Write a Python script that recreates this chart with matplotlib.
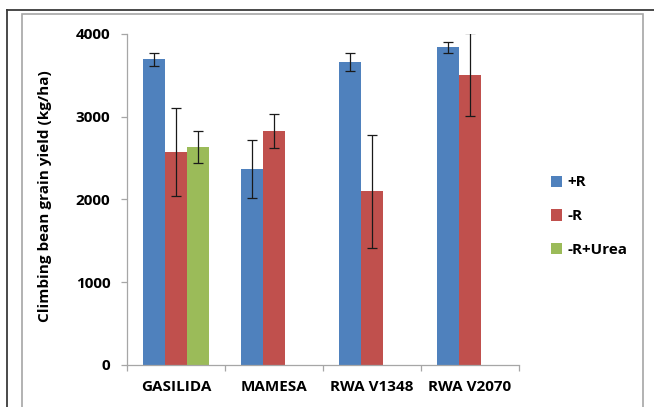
import matplotlib
matplotlib.use("Agg")
import matplotlib.pyplot as plt
import numpy as np
from matplotlib.lines import Line2D
from matplotlib.patches import Rectangle

plt.rcParams['font.family'] = ['Open Sans', 'DejaVu Sans']
plt.rcParams['font.weight'] = 'bold'

categories = ["GASILIDA", "MAMESA", "RWA V1348", "RWA V2070"]
series = ["+R", "-R", "-R+Urea"]
plus_r = [3690, 2365, 3660, 3835]
plus_r_err = [80, 350, 112, 67]
minus_r = [2570, 2825, 2095, 3505]
minus_r_err = [530, 200, 685, 500]
minus_r_urea = [2630, np.nan, np.nan, np.nan]
minus_r_urea_err = [195, np.nan, np.nan, np.nan]
yticks = [0, 1000, 2000, 3000, 4000]
ylabel = "Climbing bean grain yield (kg/ha)"

colors = ["#4F81BD", "#C0504D", "#9BBB59"]
FS = 11

W, H = 654, 407
fig = plt.figure(figsize=(W / 100, H / 100), dpi=100)
ax = fig.add_axes([127 / W, 1 - 365 / H, (519 - 127) / W, (365 - 33.7) / H])

x = np.arange(len(categories))
bw = 0.2245
vals = [plus_r, minus_r, minus_r_urea]
errs = [plus_r_err, minus_r_err, minus_r_urea_err]
for i, (v, e, c, lab) in enumerate(zip(vals, errs, colors, series)):
    ax.bar(x + (i - 1) * bw, v, width=bw, color=c, label=lab, zorder=2)
    ax.errorbar(x + (i - 1) * bw, v, yerr=e, fmt='none', ecolor='#1a1a1a',
                elinewidth=0.9, capsize=3.5, capthick=0.9, zorder=3)

ax.set_xlim(-0.5, len(categories) - 0.5)
ax.set_ylim(0, 4000)
ax.set_yticks(yticks)
ax.set_yticklabels([str(t) for t in yticks], fontsize=FS, fontweight='bold')
ax.set_xticks(x)
ax.set_xticklabels(categories, fontsize=FS, fontweight='bold')
ax.set_xticks(np.arange(len(categories) + 1) - 0.5, minor=True)
ax.tick_params(axis='x', which='major', length=0, pad=11)
ax.tick_params(axis='x', which='minor', length=4, color='#A6A6A6', width=0.9, direction='out')
ax.tick_params(axis='y', length=4, color='#A6A6A6', width=0.9, pad=8)
for s in ['top', 'right']:
    ax.spines[s].set_visible(False)
for s in ['left', 'bottom']:
    ax.spines[s].set_color('#A6A6A6')
    ax.spines[s].set_linewidth(0.9)

fig.text(45 / W, 1 - 196 / H, ylabel, rotation=90, ha='center', va='center',
         fontsize=FS, fontweight='bold')

leg = fig.legend(loc='upper left', bbox_to_anchor=(551 / W, 1 - 175.5 / H), frameon=False,
                 fontsize=FS, handlelength=0.75, handleheight=0.75, handletextpad=0.3,
                 labelspacing=1.3, borderaxespad=0, borderpad=0)
for t in leg.get_texts():
    t.set_fontweight('bold')

# frames
fig.add_artist(Line2D([7 / W, 7 / W], [0, 1 - 10 / H], color='#3a3a3a', lw=1.3))
fig.add_artist(Line2D([7 / W, 1], [1 - 10 / H, 1 - 10 / H], color='#3a3a3a', lw=1.3))
fig.add_artist(Rectangle((22 / W, -0.05), (643 - 22) / W, 1 - 14.3 / H + 0.05,
                         fill=False, edgecolor='#A6A6A6', lw=1.2))

fig.savefig("out.png", dpi=100)
